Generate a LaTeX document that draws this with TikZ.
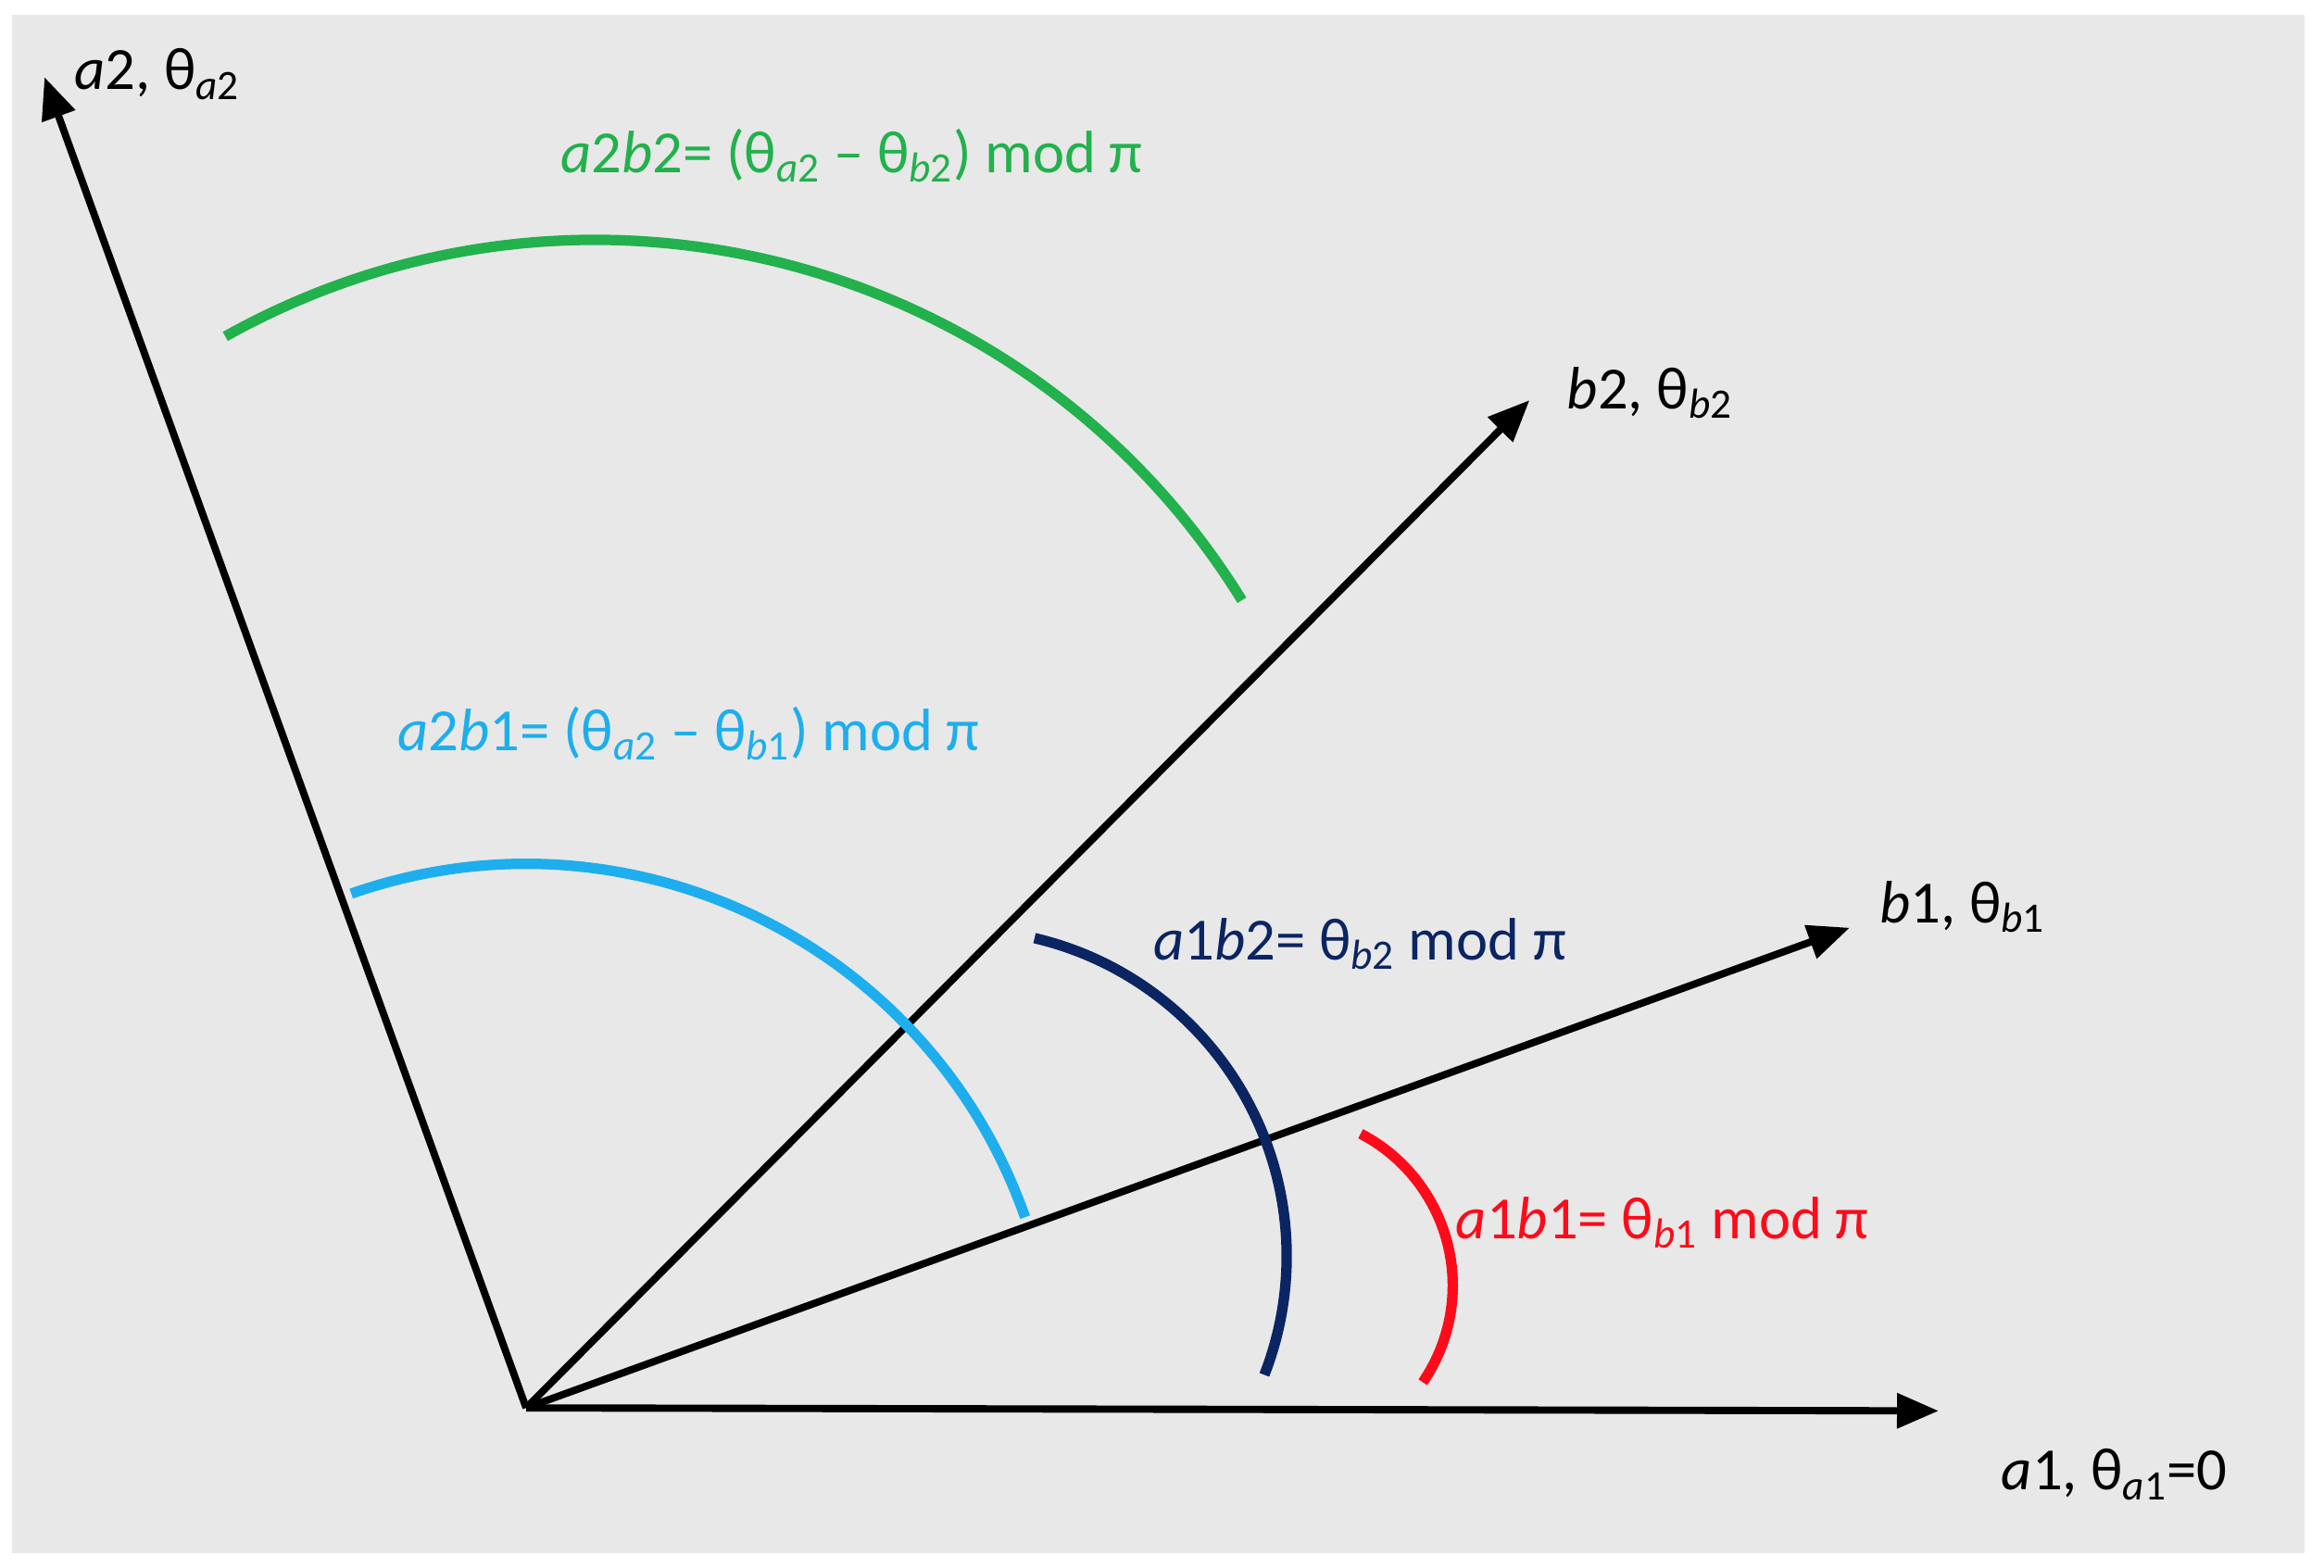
\documentclass[tikz,border=0pt]{standalone}
\usepackage{fontspec}
\setmainfont{Carlito}
\usetikzlibrary{arrows.meta}
\definecolor{bg}{HTML}{E8E8E8}
\definecolor{cgreen}{HTML}{22B14C}
\definecolor{ccyan}{HTML}{1EAEEE}
\definecolor{cnavy}{HTML}{0B2462}
\definecolor{cred}{HTML}{FF0A1A}
\newcommand{\tsub}[1]{\textsubscript{#1}}
\begin{document}
\begin{tikzpicture}[x=0.02cm,y=-0.02cm,
  axis/.style={line width=2.8pt,-{Triangle[length=16pt,width=13pt]}},
  arcline/.style={line width=4pt},
  lbl/.style={font=\fontsize{23}{27}\selectfont,inner sep=0pt,anchor=west}]
\useasboundingbox (0,0) rectangle (1568,1058);
\fill[white] (0,0) rectangle (1568,1058);
\fill[bg] (8,10) rectangle (1555,1048);
\coordinate (O) at (355,950);
\coordinate (A1) at (1308,952);
\coordinate (A2) at (30,52);
\coordinate (B2) at (1032,270);
\coordinate (B1) at (1248,626);
\draw[axis] (O) -- (A1);
\draw[axis] (O) -- (A2);
\draw[axis] (O) -- (B2);
\draw[axis] (O) -- (B1);
\draw[arcline,cgreen] (152,227) arc[start angle=119.2,end angle=31.7,radius=10.25cm];
\draw[arcline,ccyan] (237,603) arc[start angle=109.3,end angle=19.4,radius=7.14cm];
\draw[arcline,cnavy] (698,633) arc[start angle=76.8,end angle=-21.3,radius=4.41cm];
\draw[arcline,cred] (918,765) arc[start angle=62.5,end angle=-34.4,radius=2.31cm];
\node[lbl] (la2) at (50,50) {\textit{a}2, θ\tsub{\textit{a}2}};
\node[lbl,cgreen] (lg) at (378,105) {\textit{a}2\textit{b}2= (θ\tsub{\textit{a}2} – θ\tsub{\textit{b}2}) mod π};
\node[lbl] (lb2) at (1057,265) {\textit{b}2, θ\tsub{\textit{b}2}};
\node[lbl,ccyan] (lc) at (268,495) {\textit{a}2\textit{b}1= (θ\tsub{\textit{a}2} – θ\tsub{\textit{b}1}) mod π};
\node[lbl] (lb1) at (1268,612) {\textit{b}1, θ\tsub{\textit{b}1}};
\node[lbl,cnavy] (ln) at (778,637) {\textit{a}1\textit{b}2= θ\tsub{\textit{b}2} mod π};
\node[lbl,cred] (lr) at (982,825) {\textit{a}1\textit{b}1= θ\tsub{\textit{b}1} mod π};
\node[lbl] (la1) at (1350,995) {\textit{a}1, θ\tsub{\textit{a}1}=0};
\end{tikzpicture}
\end{document}
